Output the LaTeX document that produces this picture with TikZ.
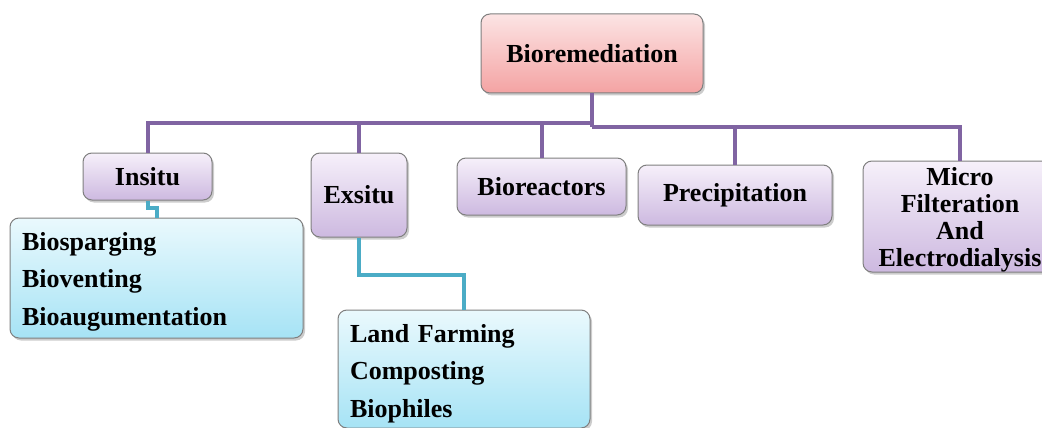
\documentclass[tikz,border=0pt]{standalone}
\usepackage{fontspec}
\setmainfont{Liberation Serif}
\usetikzlibrary{shadows}
\definecolor{purpline}{HTML}{8064A2}
\definecolor{cyanline}{HTML}{4BACC6}
\definecolor{edgegray}{HTML}{7F7F7F}
\definecolor{pinktop}{HTML}{FCE4E4}
\definecolor{pinkbot}{HTML}{F4A3A3}
\definecolor{lavtop}{HTML}{F6F0FA}
\definecolor{lavbot}{HTML}{CDB9E0}
\definecolor{cyantop}{HTML}{EAF9FD}
\definecolor{cyanbot}{HTML}{A6E3F5}
\tikzset{
  box/.style={draw=edgegray, line width=1pt, rounded corners=9pt, inner sep=0pt,
    font=\bfseries\fontsize{26}{27}\selectfont, align=center,
    drop shadow={shadow xshift=2pt, shadow yshift=-2.5pt, opacity=0.4}},
  rootbox/.style={box, top color=pinktop, bottom color=pinkbot},
  catbox/.style={box, top color=lavtop, bottom color=lavbot},
  listbox/.style={box, top color=cyantop, bottom color=cyanbot,
    font=\bfseries\fontsize{26}{37.5}\selectfont, align=left},
  purp/.style={draw=purpline, line width=4pt, line join=miter},
  cyn/.style={draw=cyanline, line width=4pt, line join=miter}
}
\begin{document}
\begin{tikzpicture}[x=1pt,y=-1pt]
\useasboundingbox (0,0) rectangle (1042,428);
\node[rootbox, minimum width=222pt, minimum height=79pt] (root) at (592,53.5) {Bioremediation};
\node[catbox, minimum width=129pt, minimum height=47pt] (insitu) at (147.5,176.5) {Insitu};
\node[catbox, minimum width=96pt, minimum height=84pt] (exsitu) at (359,195) {Exsitu};
\node[catbox, minimum width=169pt, minimum height=57pt] (bioreactors) at (541.5,186.5) {Bioreactors};
\node[catbox, minimum width=194pt, minimum height=60pt] (precip) at (735,195) {Precipitation};
\node[catbox, minimum width=194pt, minimum height=111pt] (micro) at (960,216.5) {\rule{0pt}{24pt}Micro\\Filteration\\And\\Electrodialysis};
\node[listbox, minimum width=293pt, minimum height=120pt, text width=269pt] (ilist) at (156.5,278) {\rule{0pt}{25pt}Biosparging\\Bioventing\\Bioaugumentation};
\node[listbox, minimum width=252pt, minimum height=118pt, text width=228pt] (elist) at (464,369) {\rule{0pt}{27pt}Land Farming\\Composting\\Biophiles};
\coordinate (hl) at (0,123);
\coordinate (hr) at (0,127);
\draw[purp] (root.south) -- (root.south |- hr);
\draw[purp] (root.south |- hl) -| (insitu.north);
\draw[purp] (root.south |- hl) -| (exsitu.north);
\draw[purp] (root.south |- hl) -| (bioreactors.north);
\draw[purp] (root.south |- hr) -| (precip.north);
\draw[purp] (root.south |- hr) -| (micro.north);
\draw[cyn] (insitu.south) -- ++(0,7) -| (ilist.north);
\draw[cyn] (exsitu.south) -- ++(0,37) -| (elist.north);
\end{tikzpicture}
\end{document}
